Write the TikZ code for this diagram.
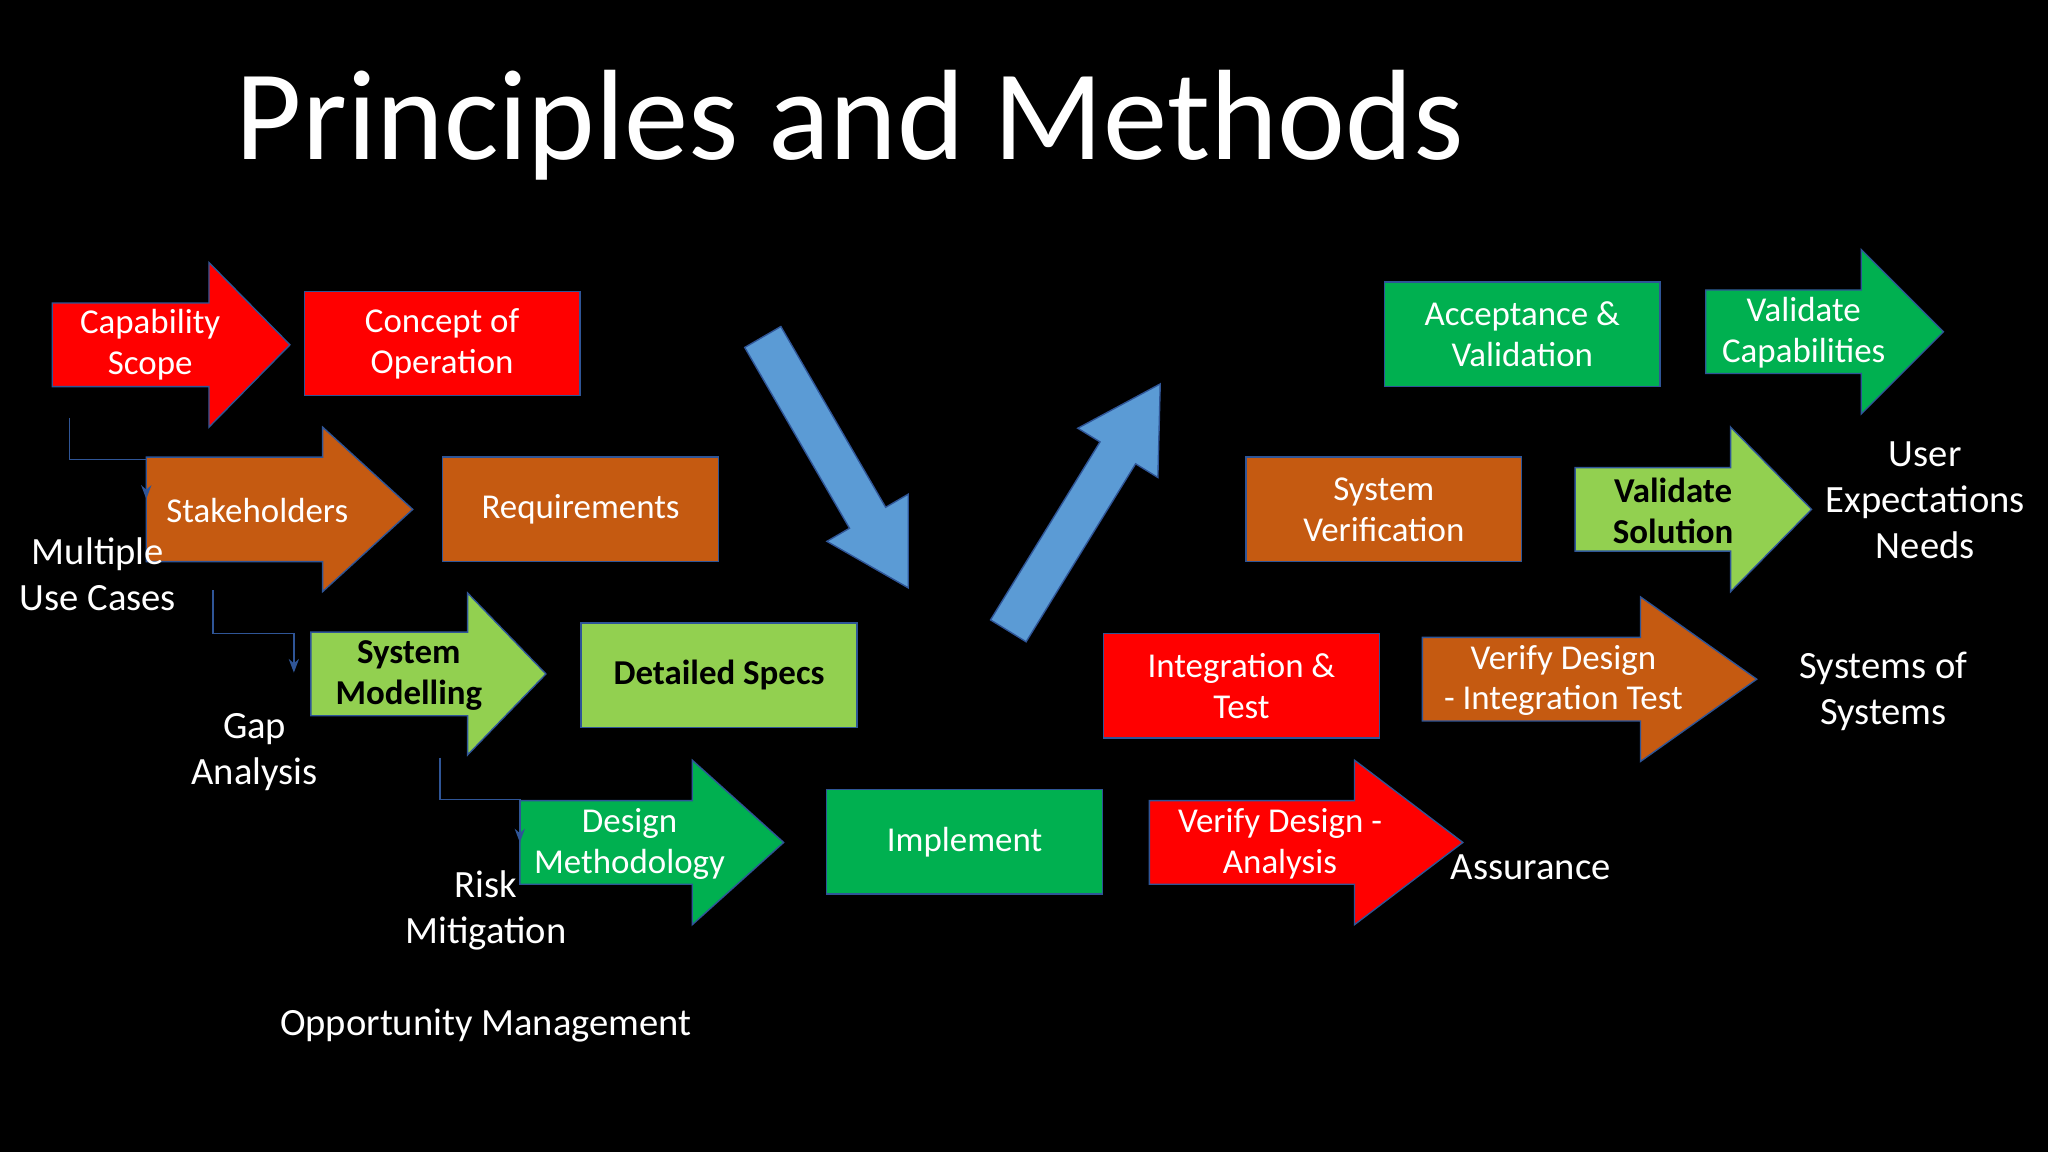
\documentclass[tikz,border=0pt]{standalone}
\usepackage{fontspec}
\setmainfont{Carlito}
\usetikzlibrary{arrows.meta}
\definecolor{myred}{HTML}{FF0000}
\definecolor{myorange}{HTML}{C55A11}
\definecolor{mylime}{HTML}{92D050}
\definecolor{mygreen}{HTML}{00B050}
\definecolor{myblue}{HTML}{5B9BD5}
\definecolor{myedge}{HTML}{2F5597}
\newcommand\fatarrow[7]{% fill, x0, xb, xt, yc, half body, half head
\fill[#1,draw=myedge,line width=0.3pt] (#2,#5-#6) -- (#3,#5-#6) -- (#3,#5-#7) -- (#4,#5) -- (#3,#5+#7) -- (#3,#5+#6) -- (#2,#5+#6) -- cycle;}
\newcommand\slantarrow[3]{% x, y, angle
\begin{scope}[shift={(#1,#2)},rotate=#3,x=0.01cm,y=0.01cm]
\fill[myblue,draw=myedge,line width=0.3pt] (0,-16) -- (160,-16) -- (160,-36) -- (222,0) -- (160,36) -- (160,16) -- (0,16) -- cycle;
\end{scope}}
\begin{document}
\begin{tikzpicture}[x=0.01cm,y=-0.01cm,
  lbl/.style={text=white,font=\fontsize{7.6}{8.9}\selectfont,align=center},
  dark/.style={text=black,font=\fontsize{7.6}{8.9}\selectfont\bfseries,align=center},
  note/.style={text=white,font=\fontsize{8.4}{10}\selectfont,align=center},
  box/.style={draw=myedge,line width=0.3pt,minimum width=2.11cm,minimum height=0.8cm,lbl},
  link/.style={draw=myedge,line width=0.3pt,-{Stealth[length=3pt]}}]
\fill[black] (0,0) rectangle (1568,882);
\useasboundingbox (0,0) rectangle (1568,882);
\node[text=white,font=\fontsize{28}{32}\selectfont,anchor=base west] (title) at (168,122) {Principles and Methods};
% arrows
\fatarrow{myred}{40}{160}{222}{264}{32}{63}
\fatarrow{myorange}{112}{247}{316}{390}{40}{63}
\fatarrow{mylime}{238}{358}{418}{516}{32}{62}
\fatarrow{mygreen}{398}{530}{600}{645}{32}{63}
\fatarrow{myred}{880}{1037}{1120}{645}{32}{63}
\fatarrow{myorange}{1089}{1256}{1345}{520}{32}{63}
\fatarrow{mylime}{1206}{1325}{1387}{390}{32}{63}
\fatarrow{mygreen}{1306}{1425}{1488}{254}{32}{63}
\slantarrow{584}{258}{-59.9}
\slantarrow{772}{483}{58.4}
\node[lbl] (scope) at (115,264) {Capability\\Scope};
\node[lbl] (stake) at (197,391) {Stakeholders};
\node[dark] (model) at (313,517) {System\\Modelling};
\node[lbl] (method) at (482,646) {Design\\Methodology};
\node[lbl] (analysis) at (980,646) {Verify Design -\\Analysis};
\node[lbl] (inttest) at (1197,521) {Verify Design\\- Integration Test};
\node[dark] (valsol) at (1281,391) {Validate\\Solution};
\node[lbl] (valcap) at (1381,255) {Validate\\Capabilities};
% boxes
\node[box,fill=myred] (conops) at (338.5,263) {Concept of\\Operation};
\node[box,fill=myorange] (req) at (444.5,390) {Requirements};
\node[box,fill=mylime,dark] (specs) at (550.5,517) {Detailed Specs};
\node[box,fill=mygreen] (impl) at (738.5,644.5) {Implement};
\node[box,fill=myred] (integ) at (950.5,525) {Integration \&\\Test};
\node[box,fill=myorange] (sysver) at (1059.5,390) {System\\Verification};
\node[box,fill=mygreen] (accept) at (1165.5,256) {Acceptance \&\\Validation};
% links
\coordinate (a0) at (53,320); \coordinate (a1) at (112,382);
\coordinate (b0) at (163,452); \coordinate (b1) at (225,515);
\coordinate (c0) at (337,580); \coordinate (c1) at (398,645);
\draw[link] (a0) -- (53,352) -- (112,352) -- (a1);
\draw[link] (b0) -- (163,485) -- (225,485) -- (b1);
\draw[link] (c0) -- (337,612) -- (398,612) -- (c1);
% notes
\node[note] (usecases) at (75,440) {Multiple\\Use Cases};
\node[note] (gap) at (195,576) {Gap\\Analysis};
\node[note] (risk) at (372,697) {Risk\\Mitigation};
\node[note] (opp) at (372,785) {Opportunity Management};
\node[note] (assure) at (1172,664) {Assurance};
\node[note] (user) at (1474,383) {User\\Expectations\\Needs};
\node[note] (sos) at (1442,529) {Systems of\\Systems};
\end{tikzpicture}
\end{document}
